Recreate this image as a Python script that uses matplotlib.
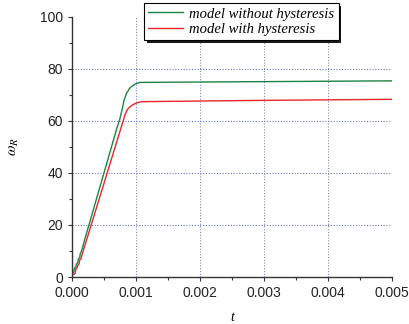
import matplotlib
matplotlib.use("Agg")
import matplotlib.pyplot as plt
from matplotlib.ticker import MultipleLocator

plt.rcParams["mathtext.fontset"] = "stix"

# model without hysteresis
t_green = [0, 0.00001, 0.00003, 0.00004, 0.00006, 0.00007, 0.00009, 0.0001, 0.00012,
           0.00013, 0.00015, 0.0002, 0.00027, 0.0004, 0.0005, 0.0006, 0.0007, 0.00074,
           0.00078, 0.00081, 0.00085, 0.0009, 0.00095, 0.001, 0.00106, 0.002, 0.003,
           0.004, 0.005]
w_green = [0, 1.5, 2, 3.5, 3.8, 5, 5.5, 7, 7.5, 9, 10, 14.5, 20.4, 31.5, 40, 48.5, 57.1,
           60, 64, 67.5, 70.5, 72.5, 73.6, 74.3, 74.8, 74.95, 75.1, 75.25, 75.4]

# model with hysteresis
t_red = [0, 0.00001, 0.00003, 0.00005, 0.00006, 0.00008, 0.00009, 0.00011, 0.00012,
         0.00014, 0.00016, 0.0002, 0.0003, 0.0004, 0.0005, 0.0006, 0.0007, 0.0008,
         0.00083, 0.00087, 0.0009, 0.00095, 0.001, 0.00105, 0.0011, 0.002, 0.003,
         0.004, 0.005]
w_red = [0, 1, 1, 1.5, 3, 3.5, 4.5, 5, 6.5, 7, 8.8, 12, 20, 28, 36, 44, 52, 60, 62.5,
         64.5, 65.3, 66.2, 66.8, 67.2, 67.4, 67.65, 67.9, 68.1, 68.3]

x_ticks = [0.000, 0.001, 0.002, 0.003, 0.004, 0.005]
x_labels = ["0.000", "0.001", "0.002", "0.003", "0.004", "0.005"]
y_ticks = [0, 20, 40, 60, 80, 100]

fig = plt.figure(figsize=(4.09, 3.24), dpi=100)
ax = fig.add_axes([0.176, 0.145, 0.782, 0.803])

ax.plot(t_green, w_green, color="#1c8346", lw=1.0, label="model without hysteresis")
ax.plot(t_red, w_red, color="#e8262a", lw=1.0, label="model with hysteresis")

ax.set_xlim(0, 0.005)
ax.set_ylim(0, 100)
ax.set_xticks(x_ticks)
ax.set_xticklabels(x_labels)
ax.set_yticks(y_ticks)
ax.xaxis.set_minor_locator(MultipleLocator(0.0005))
ax.yaxis.set_minor_locator(MultipleLocator(10))

for s in ["top", "right"]:
    ax.spines[s].set_visible(False)
for s in ["left", "bottom"]:
    ax.spines[s].set_color("#333333")
    ax.spines[s].set_linewidth(1.0)

ax.tick_params(which="major", direction="out", length=3, width=0.8, color="#333333",
               labelsize=10, labelcolor="#222222")
ax.tick_params(which="minor", direction="out", length=2, width=0.8, color="#333333")
for lab in ax.get_xticklabels() + ax.get_yticklabels():
    lab.set_family("Liberation Sans")

# dotted grid at the inner major ticks only
for x in x_ticks[1:-1]:
    ax.axvline(x, color="#8088cc", lw=0.8, ls=(0, (1, 1.5)), zorder=0)
for y in y_ticks[1:-1]:
    ax.axhline(y, color="#6c76c4", lw=0.8, ls=(0, (1, 1.5)), zorder=0)

ax.set_xlabel("t", family="Liberation Serif", style="italic", fontsize=10, labelpad=8)
ax.set_ylabel(r"$\omega_R$", fontsize=11)
ax.yaxis.set_label_coords(-0.16, 0.5)

leg = ax.legend(loc="upper left", bbox_to_anchor=(144 / 409, 1 - 3 / 324),
                bbox_transform=fig.transFigure, frameon=True, fancybox=False,
                shadow={"facecolor": "#1a1a1a", "edgecolor": "none", "alpha": 1.0},
                prop={"family": "Liberation Serif", "style": "italic", "size": 10.5},
                handlelength=2.4, handletextpad=0.4, borderpad=0.3, labelspacing=0.15,
                borderaxespad=0)
leg.get_frame().set_edgecolor("black")
leg.get_frame().set_linewidth(0.8)

fig.savefig("out.png", dpi=100)
